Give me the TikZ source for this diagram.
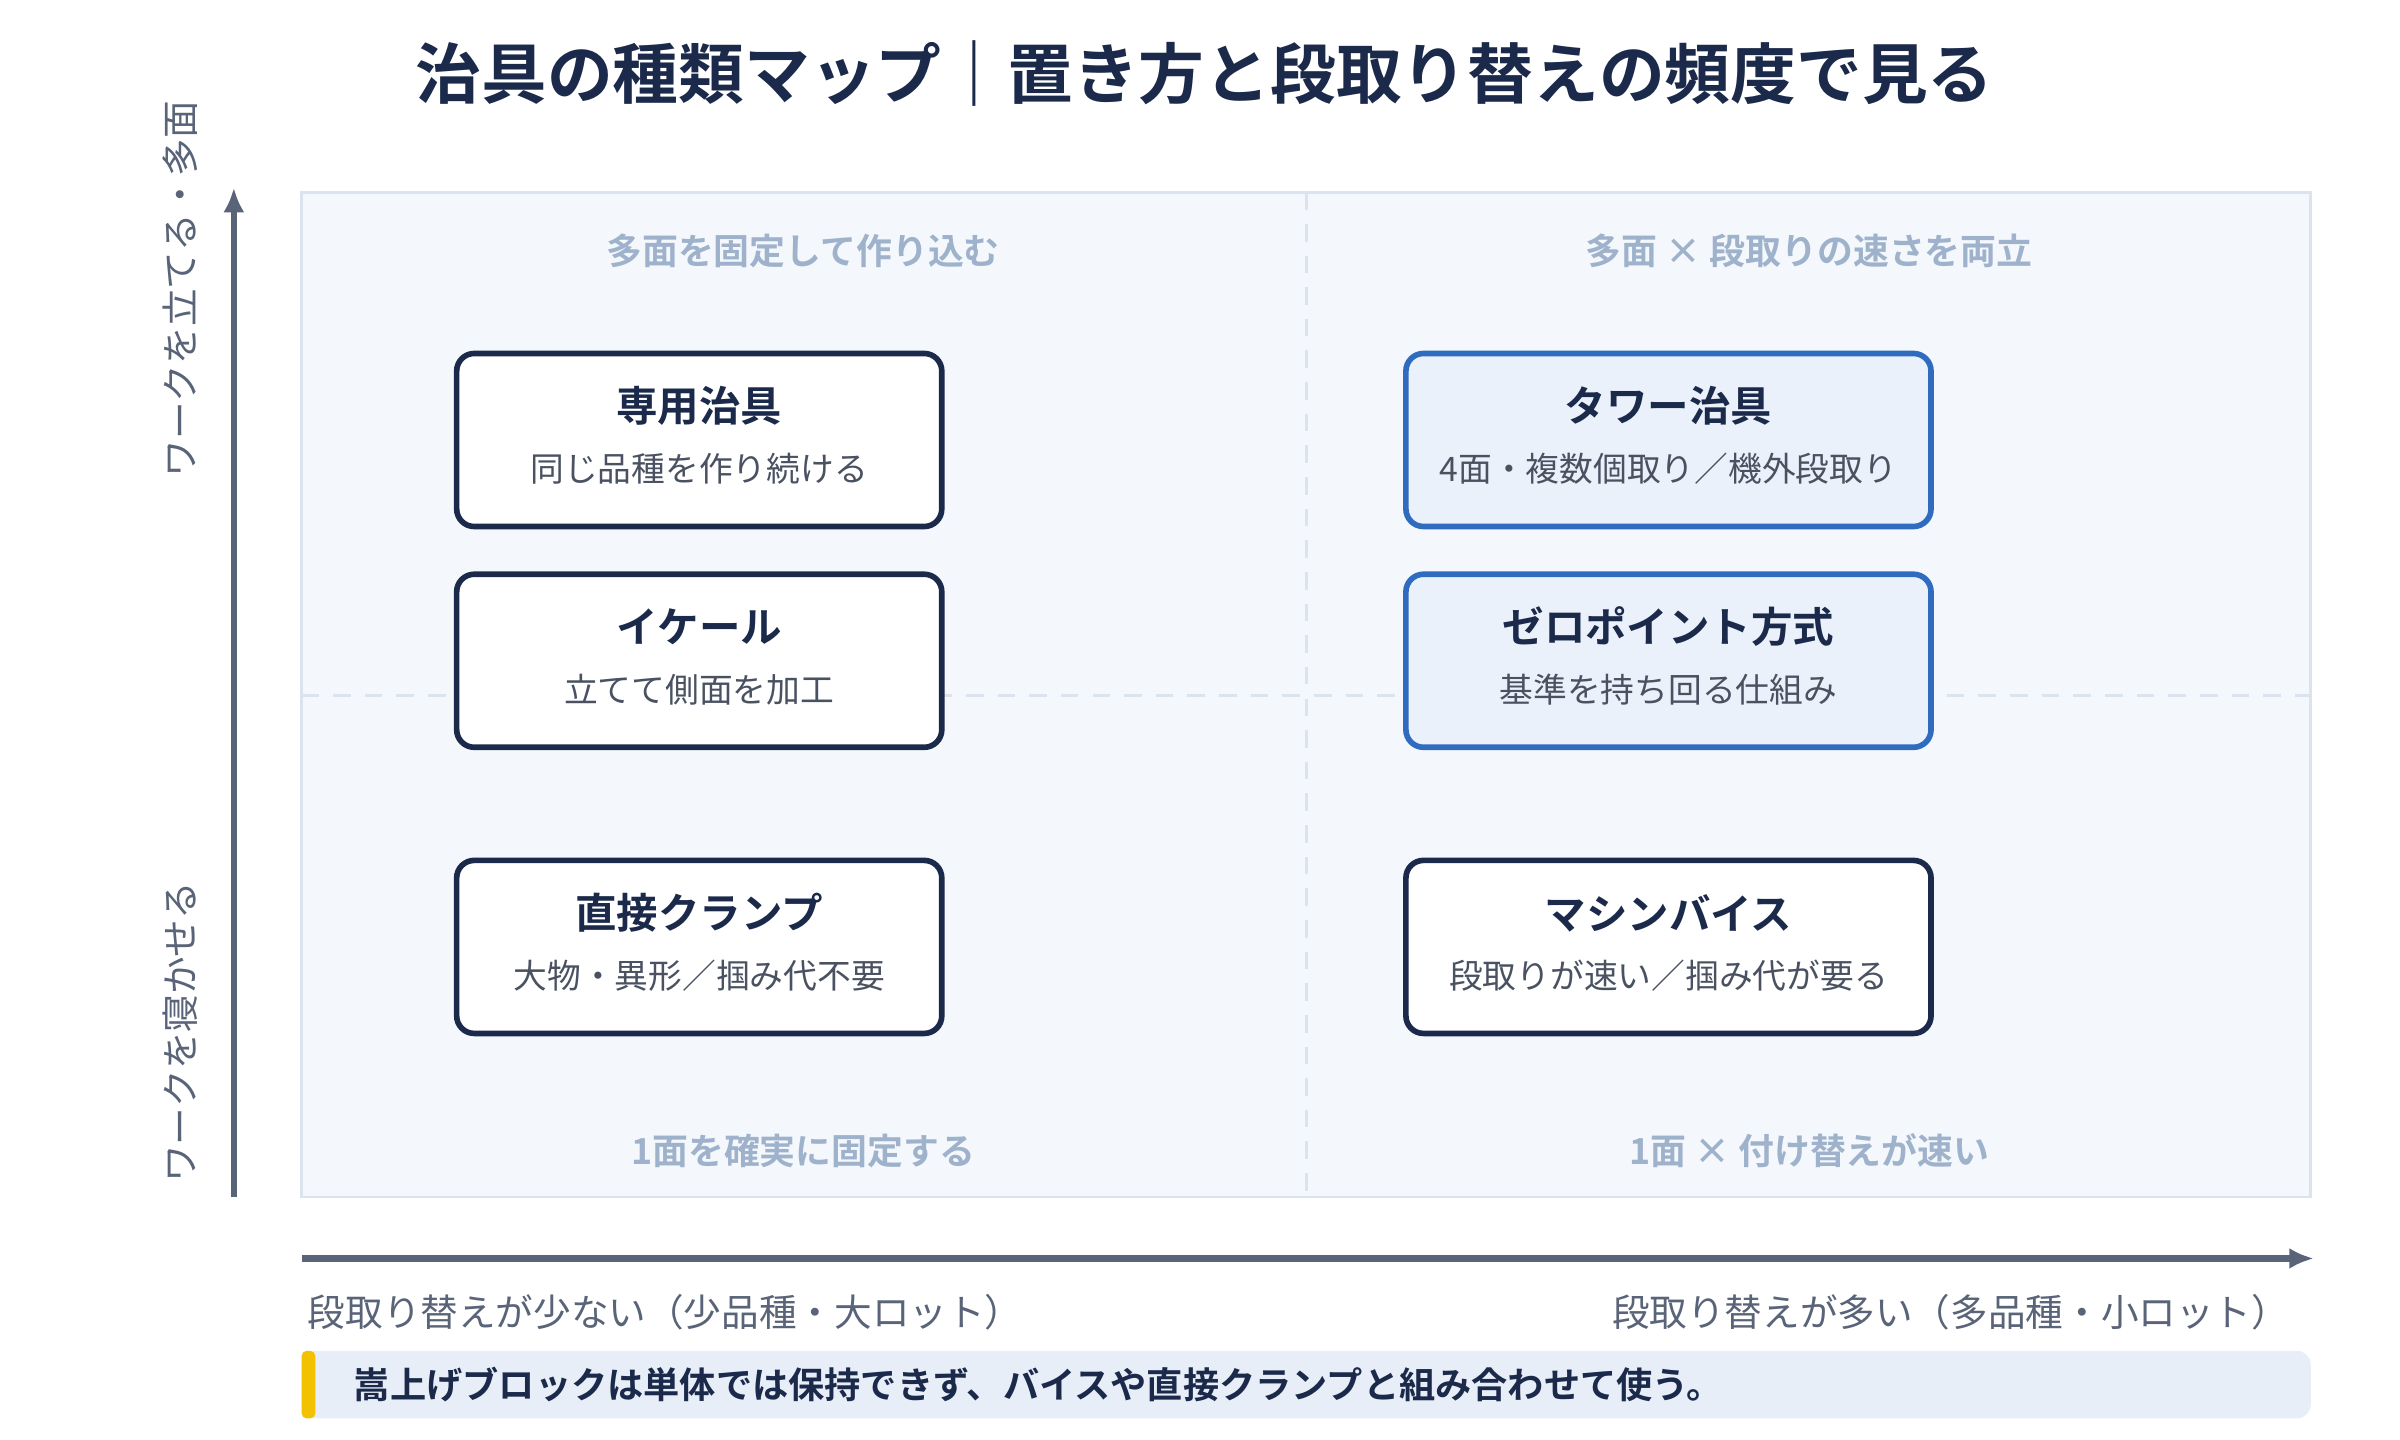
\documentclass[tikz,border=0pt]{standalone}
\usepackage{fontspec}
\setmainfont{Noto Sans CJK JP}
\newfontfamily\jpbold{Noto Sans CJK JP Bold}
\usetikzlibrary{positioning,arrows.meta}
\definecolor{navy}{HTML}{1B2A4A}
\definecolor{blueedge}{HTML}{2F6BBE}
\definecolor{bluefill}{HTML}{EAF1FA}
\definecolor{plotbg}{HTML}{F4F8FC}
\definecolor{plotedge}{HTML}{DAE3EE}
\definecolor{quadtext}{HTML}{9FB2CC}
\definecolor{axis}{HTML}{5A6478}
\definecolor{subtext}{HTML}{4A5262}
\definecolor{notebg}{HTML}{E8EEF7}
\definecolor{notebar}{HTML}{F2C200}
\tikzset{
  jig/.style={draw=navy, line width=1.6pt, rounded corners=5pt, fill=white,
    minimum width=4.85cm, minimum height=1.73cm},
  jigr/.style={jig, minimum width=5.25cm},
  jighl/.style={jigr, draw=blueedge, fill=bluefill},
  jigtitle/.style={font=\jpbold\fontsize{11.8}{13}\selectfont, text=navy},
  jigsub/.style={font=\fontsize{9.6}{11}\selectfont, text=subtext},
  quad/.style={font=\jpbold\fontsize{10.2}{12}\selectfont, text=quadtext},
  axislabel/.style={font=\fontsize{10.7}{12}\selectfont, text=axis},
}
\begin{document}
\begin{tikzpicture}[x=0.015385cm, y=-0.015385cm]
    \useasboundingbox (0,0) rectangle (1560,936);
    \newcommand{\boxrow}[6]{%
      \node[#1] (#2) at (#3) {};
      \node[jigtitle] at ([yshift=0.34cm]#2.center) {#4};
      \node[jigsub] at ([yshift=-0.29cm]#2.center) {#5};}
    
    % title
    \node[font=\jpbold\fontsize{18.7}{21}\selectfont, text=navy] (title) at (783,48) {治具の種類マップ｜置き方と段取り替えの頻度で見る};
    
    % plot area
    \draw[fill=plotbg, draw=plotedge, line width=0.8pt] (196,125) rectangle (1502,778);
    \draw[plotedge, line width=0.9pt, dash pattern=on 5pt off 4pt] (849,125) -- (849,778);
    \draw[plotedge, line width=0.9pt, dash pattern=on 5pt off 4pt] (196,452) -- (1502,452);
    
    % quadrant labels
    \node[quad] (qtl) at (522,163) {多面を固定して作り込む};
    \node[quad] (qtr) at (1176,163) {多面 × 段取りの速さを両立};
    \node[quad] (qbl) at (522,748) {1面を確実に固定する};
    \node[quad] (qbr) at (1176,748) {1面 × 付け替えが速い};
    
    % boxes
    \boxrow{jig}{senyo}{454.5,286}{専用治具}{同じ品種を作り続ける}{}
    \boxrow{jig}{ikeru}{454.5,429.5}{イケール}{立てて側面を加工}{}
    \boxrow{jig}{clamp}{454.5,615.5}{直接クランプ}{大物・異形／掴み代不要}{}
    \boxrow{jighl}{tower}{1084.5,286}{タワー治具}{4面・複数個取り／機外段取り}{}
    \boxrow{jighl}{zero}{1084.5,429.5}{ゼロポイント方式}{基準を持ち回る仕組み}{}
    \boxrow{jigr}{vise}{1084.5,615.5}{マシンバイス}{段取りが速い／掴み代が要る}{}
    
    % axes
    \coordinate (ybot) at (152,778);
    \coordinate (ytop) at (152,122);
    \coordinate (xl) at (196,818);
    \coordinate (xr) at (1504,818);
    \draw[axis, line width=1.8pt, -{Latex[length=7pt,width=6pt]}] (ybot) -- (ytop);
    \draw[axis, line width=1.8pt, -{Latex[length=7pt,width=6pt]}] (xl) -- (xr);
    \node[axislabel, rotate=90] (yhi) at (117,188) {ワークを立てる・多面};
    \node[axislabel, rotate=90] (ylo) at (117,671) {ワークを寝かせる};
    \node[axislabel, anchor=west] (xlo) at (192,853) {段取り替えが少ない（少品種・大ロット）};
    \node[axislabel, anchor=east] (xhi) at (1496,853) {段取り替えが多い（多品種・小ロット）};
    
    % note
    \fill[notebg, rounded corners=4pt] (196,878) rectangle (1502,922);
    \fill[notebar, rounded corners=1.5pt] (196,878) rectangle (205,922);
    \node[font=\jpbold\fontsize{10.3}{12}\selectfont, text=navy, anchor=west] (note) at (222,900) {嵩上げブロックは単体では保持できず、バイスや直接クランプと組み合わせて使う。};
\end{tikzpicture}
\end{document}
